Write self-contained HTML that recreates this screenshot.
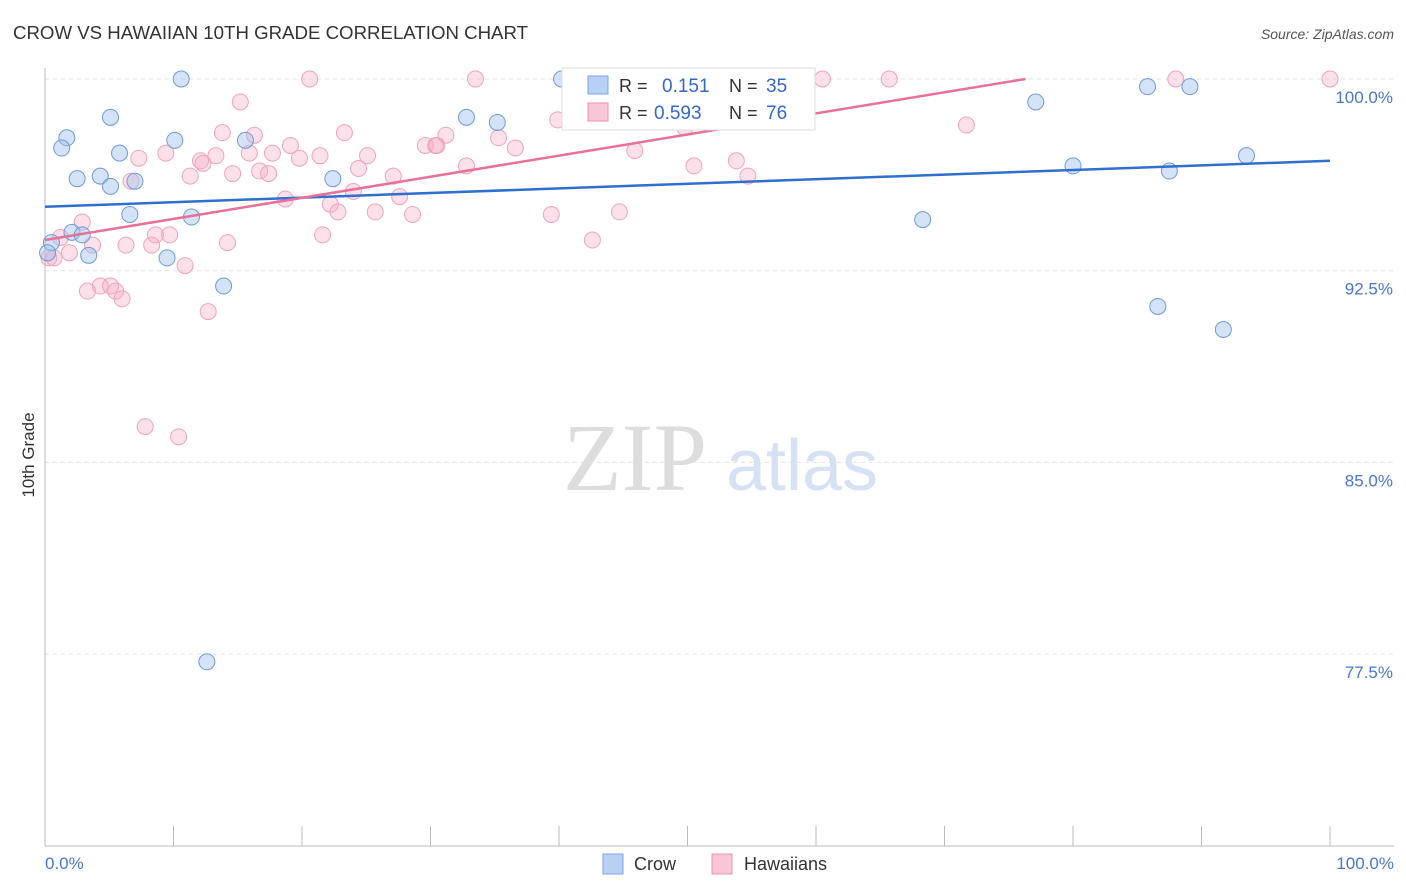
<!DOCTYPE html>
<html><head><meta charset="utf-8"><style>
body{margin:0;background:#fff;font-family:"Liberation Sans",sans-serif}
#wrap{position:relative;width:1406px;height:892px;overflow:hidden}
</style></head><body>
<div id="wrap">
<svg id="chart" width="1406" height="892" xmlns="http://www.w3.org/2000/svg">
<text x="13" y="39" font-size="18" fill="#333" textLength="515" lengthAdjust="spacingAndGlyphs">CROW VS HAWAIIAN 10TH GRADE CORRELATION CHART</text>
<text x="1394" y="39" font-size="14" fill="#555" font-style="italic" text-anchor="end">Source: ZipAtlas.com</text>
<g id="grid"></g>
<g>
<text x="635" y="490" font-size="96" fill="#ddd" font-family="Liberation Serif,serif" text-anchor="middle">ZIP</text>
<text x="802" y="490" font-size="72" fill="#d6e2f4" text-anchor="middle">atlas</text>
</g>
<line x1="45" y1="68" x2="45" y2="846" stroke="#bbb"/>
<line x1="45" y1="846" x2="1394" y2="846" stroke="#bbb"/>
<text x="34" y="455" font-size="17" fill="#333" transform="rotate(-90 34 455)" text-anchor="middle">10th Grade</text>
<text x="45" y="869" font-size="17" fill="#4a78c8">0.0%</text>
<text x="1394" y="869" font-size="17" fill="#4a78c8" text-anchor="end">100.0%</text>
<g id="pts"></g>
<g id="lines"></g>
<g>
<rect x="562" y="68" width="253" height="62" fill="#fff" stroke="#ddd"/>
<rect x="588" y="76" width="20" height="18" fill="#b8d0f3" stroke="#7aa3e0"/>
<text x="619" y="92" font-size="18" fill="#333">R = </text><text x="662" y="92" font-size="19" fill="#3567c8">0.151</text>
<text x="729" y="92" font-size="18" fill="#333">N = </text><text x="766" y="92" font-size="19" fill="#3567c8">35</text>
<rect x="588" y="103" width="20" height="18" fill="#f9c6d6" stroke="#ec93b2"/>
<text x="619" y="119" font-size="18" fill="#333">R = </text><text x="654" y="119" font-size="19" fill="#3567c8">0.593</text>
<text x="729" y="119" font-size="18" fill="#333">N = </text><text x="766" y="119" font-size="19" fill="#3567c8">76</text>
</g>
<g>
<rect x="603" y="854" width="20" height="20" fill="#b8d0f3" stroke="#7aa3e0"/>
<text x="634" y="870" font-size="18" fill="#333">Crow</text>
<rect x="712" y="854" width="20" height="20" fill="#f9c6d6" stroke="#ec93b2"/>
<text x="744" y="870" font-size="18" fill="#333">Hawaiians</text>
</g>
</svg></div>
<script>
const yTicks=[100,92.5,85,77.5];
const xTicks=[0,10,20,30,40,50,60,70,80,90,100];
const crowX=[10.6,40.2,48.6,56.4,5.1,1.7,1.3,10.1,15.6,5.8,2.5,4.3,5.1,7.0,22.4,32.8,35.2,6.6,11.4,68.3,2.1,2.9,0.5,0.2,3.4,9.5,13.9,12.6,77.1,85.8,89.1,80.0,87.5,93.5,86.6,91.7];
const crowY=[100,100,100,100,98.5,97.7,97.3,97.6,97.6,97.1,96.1,96.2,95.8,96.0,96.1,98.5,98.3,94.7,94.6,94.5,94.0,93.9,93.6,93.2,93.1,93.0,91.9,77.2,99.1,99.7,99.7,96.6,96.4,97.0,91.1,90.2];
const hawX=[20.6,33.5,60.5,65.7,88.0,100,39.9,15.2,13.8,16.3,23.3,19.1,9.4,7.3,12.1,12.3,13.3,15.9,17.7,21.4,25.1,29.6,30.5,31.2,35.3,36.6,45.9,50.5,53.8,54.7,49.8,71.7,11.3,14.6,16.7,17.4,19.8,24.4,27.1,32.8,24.0,18.7,22.2,22.8,25.7,27.6,28.6,39.4,44.7,2.9,1.2,8.6,9.7,42.6,6.3,3.7,8.3,14.2,21.6,1.9,0.7,10.9,4.3,3.3,5.1,5.5,6.0,12.7,7.8,10.4,0.3,6.7,30.4];
const hawY=[100,100,100,100,100,100,98.4,99.1,97.9,97.8,97.9,97.4,97.1,96.9,96.8,96.7,97.0,97.1,97.1,97.0,97.0,97.4,97.4,97.8,97.7,97.3,97.2,96.6,96.8,96.2,98.1,98.2,96.2,96.3,96.4,96.3,96.9,96.5,96.2,96.6,95.6,95.3,95.1,94.8,94.8,95.4,94.7,94.7,94.8,94.4,93.8,93.9,93.9,93.7,93.5,93.5,93.5,93.6,93.9,93.2,93.0,92.7,91.9,91.7,91.9,91.7,91.4,90.9,86.4,86.0,93.0,96.0,97.4];
const crowLine=[0,95.0,100,96.8];
const hawLine=[0,93.7,76.3,100];
const X=v=>45+v*12.85, Y=v=>79+(100-v)*25.56;
const NS="http://www.w3.org/2000/svg";
function mk(t,a,p){const e=document.createElementNS(NS,t);for(const k in a)e.setAttribute(k,a[k]);document.getElementById(p).appendChild(e);return e;}
yTicks.forEach(v=>{
 const l=mk('line',{x1:45,x2:1394,y1:Y(v),y2:Y(v),stroke:'#e3e3e3','stroke-dasharray':'4,4'},'grid');
 
 
 const t=mk('text',{x:1393,y:Y(v)+24,'font-size':17,fill:'#4a78c8','text-anchor':'end'},'grid');t.textContent=v.toFixed(1)+'%';
 
 
});
xTicks.forEach(v=>{
 const l=mk('line',{x1:X(v),x2:X(v),y1:826,y2:846,stroke:'#bbb'},'grid');
 
 
});
hawX.forEach((x,i)=>{
 const c=mk('circle',{cx:X(x),cy:Y(hawY[i]),r:8,fill:'rgba(246,170,196,0.35)',stroke:'#efa3bd','stroke-width':1},'pts');
 
 
});
crowX.forEach((x,i)=>{
 const c=mk('circle',{cx:X(x),cy:Y(crowY[i]),r:8,fill:'rgba(160,192,238,0.45)',stroke:'#6f9ad8','stroke-width':1},'pts');
 
 
});
const bl=mk('line',{x1:X(crowLine[0]),y1:Y(crowLine[1]),x2:X(crowLine[2]),y2:Y(crowLine[3]),stroke:'#2f6fd0','stroke-width':2.5},'lines');


const pl=mk('line',{x1:X(hawLine[0]),y1:Y(hawLine[1]),x2:X(hawLine[2]),y2:Y(hawLine[3]),stroke:'#e8709a','stroke-width':2.5},'lines');


</script>
</body></html>
